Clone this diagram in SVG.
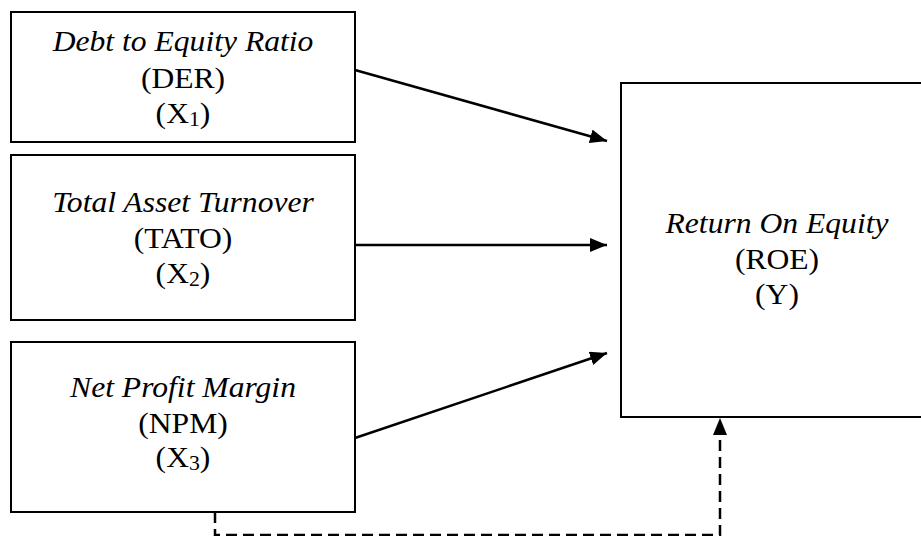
<svg xmlns="http://www.w3.org/2000/svg" width="921" height="536" viewBox="0 0 921 536">
<style>
.box{fill:#fff;stroke:#000;stroke-width:2}
.t{font-family:"Liberation Serif","Times New Roman",serif;font-size:29px;fill:#000;text-anchor:middle}
.i{font-style:italic}
.c{stroke:#000;stroke-width:2.5;fill:none}
.d{stroke-dasharray:11 6}
</style>
<defs>
<marker id="ah" markerWidth="17" markerHeight="14" refX="17" refY="7" orient="auto" markerUnits="userSpaceOnUse">
<path d="M0,0 L17,7 L0,14 Z" fill="#000"/>
</marker>
</defs>
<rect width="921" height="536" fill="#fff"/>
<g id="der">
<rect class="box" x="11" y="12" width="344" height="130"/>
<g transform="translate(183 0) scale(1.09 1)">
<text class="t i" x="0" y="51">Debt to Equity Ratio</text>
<text class="t" x="0" y="88">(DER)</text>
<text class="t" x="0" y="123">(X<tspan font-size="20" dy="3">1</tspan><tspan dy="-3">)</tspan></text>
</g>
</g>
<g id="tato">
<rect class="box" x="11" y="155" width="344" height="165"/>
<g transform="translate(183 0) scale(1.09 1)">
<text class="t i" x="0" y="212">Total Asset Turnover</text>
<text class="t" x="0" y="248">(TATO)</text>
<text class="t" x="0" y="283">(X<tspan font-size="20" dy="3">2</tspan><tspan dy="-3">)</tspan></text>
</g>
</g>
<g id="npm">
<rect class="box" x="11" y="342" width="344" height="170"/>
<g transform="translate(183 0) scale(1.09 1)">
<text class="t i" x="0" y="397">Net Profit Margin</text>
<text class="t" x="0" y="433">(NPM)</text>
<text class="t" x="0" y="467">(X<tspan font-size="20" dy="3">3</tspan><tspan dy="-3">)</tspan></text>
</g>
</g>
<g id="roe">
<rect class="box" x="621" y="83" width="312" height="334"/>
<g transform="translate(777 0) scale(1.09 1)">
<text class="t i" x="0" y="233">Return On Equity</text>
<text class="t" x="0" y="269">(ROE)</text>
<text class="t" x="0" y="304">(Y)</text>
</g>
</g>
<g id="connectors">
<line class="c" x1="355" y1="70" x2="607" y2="141" marker-end="url(#ah)"/>
<line class="c" x1="355" y1="245" x2="607" y2="245" marker-end="url(#ah)"/>
<line class="c" x1="355" y1="438" x2="607" y2="353" marker-end="url(#ah)"/>
<path class="c d" d="M215,512 V535 H720 V418" marker-end="url(#ah)"/>
</g>
</svg>
